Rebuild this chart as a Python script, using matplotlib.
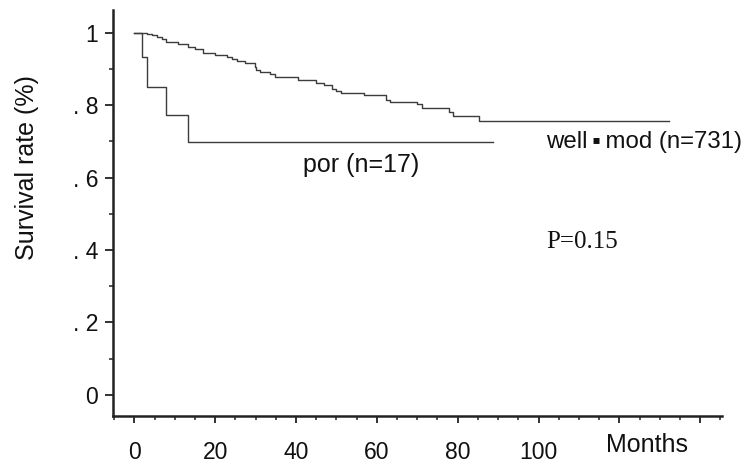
import numpy as np
import matplotlib as mpl
mpl.use('Agg')
import matplotlib.pyplot as plt
from matplotlib.ticker import MultipleLocator

# Kaplan-Meier steps (months, survival)
well_months = [0, 3.0, 4.3, 5.5, 6.7, 7.8, 10.8, 13.3, 15.0, 17.0, 19.9, 22.8,
               24.1, 25.3, 27.4, 29.8, 30.2, 31.1, 33.5, 34.8, 40.5, 44.9,
               47.0, 49.0, 50.0, 51.1, 56.9, 62.3, 63.2, 70.0, 71.1, 77.8,
               78.9, 85.3, 132.3]
well_surv = [1.0, 0.996, 0.992, 0.987, 0.983, 0.973, 0.969, 0.961, 0.955,
             0.944, 0.939, 0.932, 0.926, 0.921, 0.915, 0.904, 0.897, 0.891,
             0.886, 0.877, 0.868, 0.860, 0.856, 0.845, 0.838, 0.833, 0.827,
             0.815, 0.809, 0.802, 0.791, 0.780, 0.769, 0.757, 0.757]

por_months = [0, 1.8, 3.0, 7.7, 13.2, 88.8]
por_surv = [1.0, 0.932, 0.849, 0.773, 0.698, 0.698]

x_ticks = [0, 20, 40, 60, 80, 100]
y_ticks = [0, 0.2, 0.4, 0.6, 0.8, 1.0]
y_labels = ["0", ". 2", ". 4", ". 6", ". 8", "1"]

sans = ["Liberation Sans", "DejaVu Sans"]

fig = plt.figure(figsize=(7.44, 4.63), dpi=100)
ax = fig.add_axes([0.1519, 0.1015, 0.8185, 0.876])

lc = "#3c3c3c"
ax.step(well_months, well_surv, where="post", color=lc, lw=1.0)
ax.step(por_months, por_surv, where="post", color=lc, lw=1.0)

ax.set_xlim(-5.3, 145.4)
ax.set_ylim(-0.058, 1.061)

ax.spines["top"].set_visible(False)
ax.spines["right"].set_visible(False)
for s in ["left", "bottom"]:
    ax.spines[s].set_linewidth(1.8)
    ax.spines[s].set_color("#222222")

ax.set_xticks(x_ticks + [120, 140])
ax.set_xticklabels([str(v) for v in x_ticks] + ["", ""])
ax.xaxis.set_minor_locator(MultipleLocator(5))
ax.set_yticks(y_ticks)
ax.set_yticklabels(y_labels)
ax.yaxis.set_minor_locator(MultipleLocator(0.1))

ax.tick_params(axis="both", which="major", direction="out", width=1.3,
               color="#222222", labelsize=16.5, labelcolor="#111111")
ax.tick_params(axis="x", which="major", length=5, pad=13)
ax.tick_params(axis="y", which="major", length=5.8, pad=5)
ax.tick_params(axis="both", which="minor", direction="out", width=1.1,
               length=3, color="#222222")
for lab in ax.get_xticklabels() + ax.get_yticklabels():
    lab.set_family(sans)

ax.text(101.9, 0.698, "well\u2009\u25aa\u2009mod (n=731)", fontsize=17.3,
        family=sans, ha="left", va="center", color="#111111")
ax.text(41.7, 0.634, "por (n=17)", fontsize=18, family=sans,
        ha="left", va="center", color="#111111")
ax.text(102.0, 0.422, "P=0.15", fontsize=18, family=["Liberation Serif"],
        ha="left", va="center", color="#111111")

fig.text(647 / 744, 1 - 445 / 463, "Months", fontsize=18, family=sans,
         ha="center", va="center", color="#111111")
fig.text(27 / 744, 1 - 168 / 463, "Survival rate (%)", fontsize=18,
         family=sans, rotation=90, ha="center", va="center", color="#111111")

fig.savefig("out.png", dpi=100)
